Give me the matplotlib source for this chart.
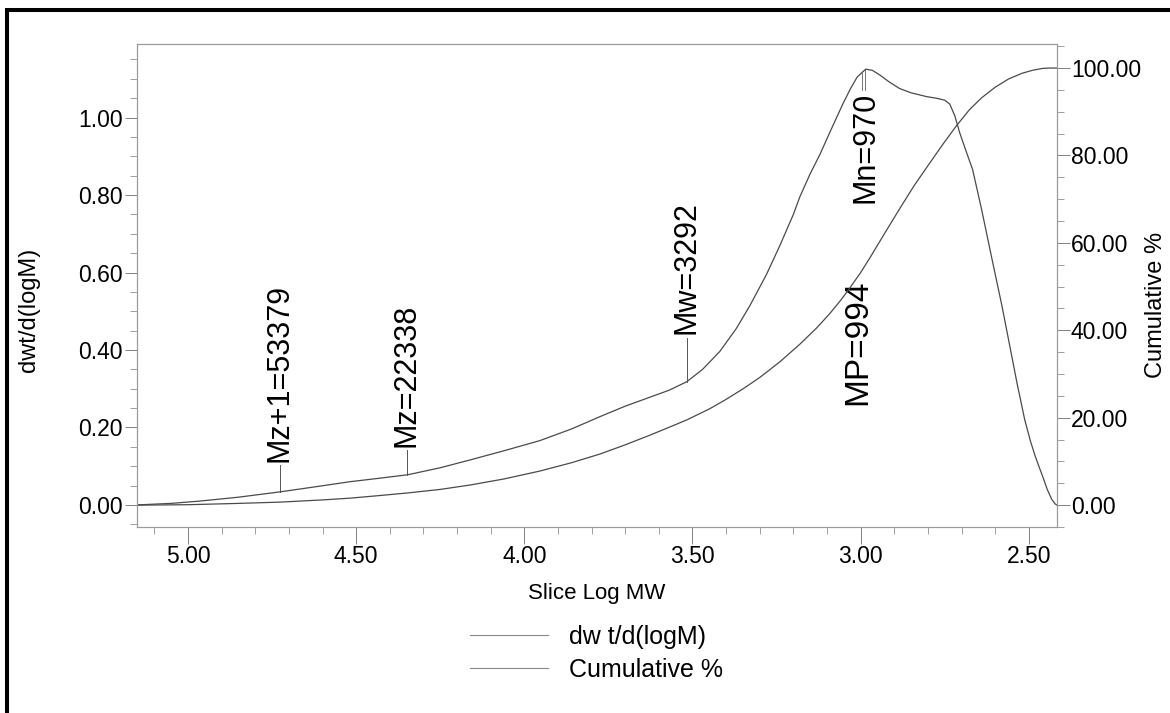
import numpy as np
import matplotlib
matplotlib.use("Agg")
from matplotlib import pyplot as plt
from matplotlib.lines import Line2D
from matplotlib.patches import Rectangle
from matplotlib.ticker import MultipleLocator, FormatStrFormatter

plt.rcParams['font.family'] = ['Liberation Sans', 'DejaVu Sans']

# slice log MW (x) and dwt/d(logM)
log_mw_dwt = [5.152, 5.05, 4.964, 4.85, 4.724, 4.62, 4.518, 4.43, 4.346, 4.25,
              4.162, 4.06, 3.954, 3.86, 3.775, 3.70, 3.627, 3.57, 3.517, 3.47,
              3.419, 3.37, 3.329, 3.28, 3.24, 3.20, 3.181, 3.15, 3.121, 3.09,
              3.053, 3.03, 3.01, 2.985, 2.965, 2.943, 2.915, 2.884, 2.85, 2.803,
              2.775, 2.75, 2.735, 2.72, 2.705, 2.685, 2.667, 2.64, 2.607, 2.58,
              2.557, 2.535, 2.512, 2.495, 2.482, 2.47, 2.458, 2.445, 2.432, 2.422,
              2.417]
dwt = [0.000, 0.004, 0.010, 0.020, 0.034, 0.047, 0.060, 0.069, 0.078, 0.096,
       0.116, 0.140, 0.166, 0.196, 0.228, 0.255, 0.278, 0.296, 0.318, 0.350,
       0.396, 0.455, 0.515, 0.595, 0.670, 0.750, 0.795, 0.855, 0.905, 0.965,
       1.035, 1.075, 1.105, 1.125, 1.122, 1.110, 1.092, 1.075, 1.064, 1.054,
       1.050, 1.045, 1.035, 1.005, 0.960, 0.910, 0.866, 0.762, 0.625, 0.515,
       0.413, 0.315, 0.220, 0.165, 0.129, 0.100, 0.072, 0.040, 0.015, 0.003,
       0.000]

# cumulative %
log_mw_cum = [5.152, 5.0, 4.85, 4.724, 4.6, 4.518, 4.43, 4.346, 4.25, 4.162,
              4.06, 3.954, 3.86, 3.775, 3.70, 3.627, 3.57, 3.517, 3.45, 3.40,
              3.35, 3.30, 3.24, 3.181, 3.13, 3.092, 3.06, 3.033, 3.00, 2.973,
              2.93, 2.884, 2.84, 2.795, 2.755, 2.714, 2.676, 2.64, 2.60, 2.56,
              2.52, 2.488, 2.46, 2.44, 2.416]
cum = [0.0, 0.1, 0.4, 0.7, 1.2, 1.6, 2.2, 2.8, 3.6, 4.6,
       6.0, 7.8, 9.7, 11.7, 13.8, 16.0, 17.8, 19.5, 22.0, 24.2,
       26.6, 29.2, 32.8, 36.8, 40.6, 43.8, 46.8, 49.6, 53.2, 56.5,
       62.0, 67.8, 73.2, 78.2, 82.6, 86.9, 90.5, 93.2, 95.6, 97.5,
       98.8, 99.5, 99.9, 100.0, 100.0]

# molecular weight averages shown on the peak
avg_names = ['Mz+1', 'Mz', 'Mw', 'Mn', 'MP']
avg_values = [53379, 22338, 3292, 970, 994]

fig = plt.figure(figsize=(11.7, 7.13), dpi=100)
ax = fig.add_axes([137 / 1170, 1 - 527 / 713, 920 / 1170, 483 / 713])
ax2 = ax.twinx()

line_col = '#4a4a4a'
ax.plot(log_mw_dwt, dwt, color=line_col, lw=0.9)
ax2.plot(log_mw_cum, cum, color=line_col, lw=0.9)

ax.set_xlim(5.152, 2.416)
ax.set_ylim(-0.057, 1.19)
ax2.set_ylim(-5.0, 105.5)

ax.xaxis.set_major_locator(MultipleLocator(0.5))
ax.xaxis.set_minor_locator(MultipleLocator(0.1))
ax.yaxis.set_major_locator(MultipleLocator(0.2))
ax.yaxis.set_minor_locator(MultipleLocator(0.05))
ax2.yaxis.set_major_locator(MultipleLocator(20))
ax2.yaxis.set_minor_locator(MultipleLocator(5))
for a in (ax, ax2):
    a.xaxis.set_major_formatter(FormatStrFormatter('%.2f'))
    a.yaxis.set_major_formatter(FormatStrFormatter('%.2f'))
    for s in a.spines.values():
        s.set_color('#9a9a9a')
        s.set_linewidth(0.8)
    a.tick_params(which='major', length=9, width=0.7, color='#808080',
                  labelsize=16.5, pad=1)
    a.tick_params(which='minor', length=5, width=0.6, color='#909090')
ax.tick_params(axis='x', which='major', length=12, pad=1)

# marker lines and labels
xs = np.log10(avg_values)
label_y = {'Mz+1': 0.112, 'Mz': 0.150, 'Mw': 0.44}
for name, val, x in zip(avg_names, avg_values, xs):
    yc = np.interp(x, log_mw_dwt[::-1], dwt[::-1])
    txt = f'{name}={val}'
    if name in label_y:
        yb = label_y[name]
        ax.plot([x, x], [yc, yb - 0.008], color='#555555', lw=0.7)
        ax.text(x, yb, txt, rotation=90, ha='center', va='bottom', fontsize=22)
    elif name == 'Mn':
        ax.plot([x, x], [yc, 1.07], color='#777777', lw=0.7)
        ax.text(x, 1.066, txt, rotation=90, ha='center', va='top', fontsize=22)
    else:
        ax.plot([x, x], [yc, 1.07], color='#777777', lw=0.7)
        ax.text(x + 0.012, 0.258, txt, rotation=90, ha='center', va='bottom',
                fontsize=24)

fig.text(597 / 1170, 1 - 594 / 713, 'Slice Log MW', ha='center', va='center',
         fontsize=16)
fig.text(29 / 1170, 1 - 310 / 713, 'dwt/d(logM)', rotation=90, ha='center',
         va='center', fontsize=17)
fig.text(1156 / 1170, 1 - 305 / 713, 'Cumulative %', rotation=90, ha='center',
         va='center', fontsize=17)

handles = [Line2D([], [], color='#8a8a8a', lw=0.8),
           Line2D([], [], color='#8a8a8a', lw=0.8)]
fig.legend(handles, ['dw t/d(logM)', 'Cumulative %'], loc='upper left',
           bbox_to_anchor=(470 / 1170, 1 - 625 / 713), frameon=False,
           fontsize=18, handlelength=3.1, handletextpad=0.85, labelspacing=0.35,
           borderpad=0, borderaxespad=0)

fig.patches.append(Rectangle((7 / 1170, -0.1), 1.2, 1.1 - 10.5 / 713,
                             transform=fig.transFigure, fill=False,
                             ec='black', lw=2.9, clip_on=False))

fig.savefig('out.png', dpi=100)
